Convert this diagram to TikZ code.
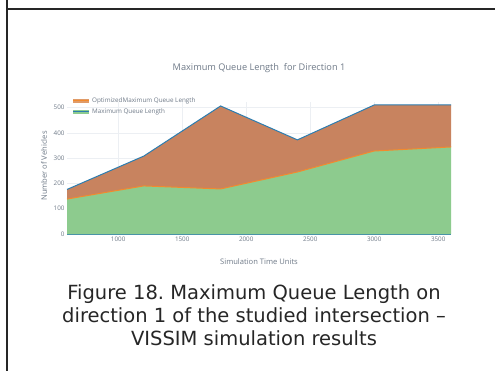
\documentclass[tikz,border=0pt]{standalone}
\usepackage{fontspec}
\setmainfont{DejaVu Sans}
\newfontfamily\plotfont{Open Sans}
\frenchspacing
\definecolor{optfill}{HTML}{C8835F}
\definecolor{maxfill}{HTML}{8DCB8E}
\definecolor{topline}{HTML}{2C7DB0}
\definecolor{midline}{HTML}{F28A2E}
\definecolor{plottext}{HTML}{6F7A88}
\definecolor{gridcol}{HTML}{ECEFF3}
\tikzset{
    ticklabel/.style={font=\plotfont\fontsize{6.3}{7}\selectfont, text=plottext, inner sep=1pt}
}
\tikzset{
    axistitle/.style={font=\plotfont\fontsize{7.6}{9}\selectfont, text=plottext, inner sep=0pt}
}

\begin{document}
\begin{tikzpicture}[x=1pt, y=1pt]
	\useasboundingbox (0,0) rectangle (495,371);
	\fill[white] (0,0) rectangle (495,371);
	\draw[line width=2pt, black!85] (7,372) -- (7,362) -- (496,362);
	\draw[line width=2pt, black!85] (7,362) -- (7,-1);

	% plot area
	\begin{scope}[shift={(67,137)}, x=0.128pt, y=0.253pt]
		\foreach \gx in {1000,1500,...,3500}
			\draw[gridcol, line width=0.5pt] (\gx-600,0) -- (\gx-600,520);
		\foreach \gy in {100,200,...,500}
			\draw[gridcol, line width=0.5pt] (0,\gy) -- (3000,\gy);
		\fill[optfill] (0,176) -- (600,308) -- (1200,506) -- (1800,372)
			-- (2400,510) -- (3000,510) -- (3000,344) -- (2400,328)
			-- (1800,245) -- (1200,178) -- (600,190) -- (0,138) -- cycle;
		\fill[maxfill] (0,0) -- (0,138) -- (600,190) -- (1200,178)
			-- (1800,245) -- (2400,328) -- (3000,344) -- (3000,0) -- cycle;
		\draw[midline, line width=1pt] (0,138) -- (600,190) -- (1200,178)
			-- (1800,245) -- (2400,328) -- (3000,344);
		\draw[topline, line width=1pt] (0,176) -- (600,308) -- (1200,506)
			-- (1800,372) -- (2400,510) -- (3000,510);
		\draw[topline!70!maxfill, line width=0.8pt] (0,0) -- (3000,0);
		\foreach \gx in {1000,1500,...,3500}
			\node[ticklabel, anchor=north] (xt\gx) at (\gx-600,-8) {\gx};
		\foreach \gy in {0,100,...,500}
			\node[ticklabel, anchor=east] (yt\gy) at (-10,\gy) {\gy};
	\end{scope}

	% legend
	\fill[optfill!70!orange!80!white] (73,268) rectangle (89,271.5);
	\draw[midline, line width=0.8pt] (73,271) -- (89,271);
	\fill[maxfill] (73,257) rectangle (89,260.5);
	\draw[topline, line width=0.8pt] (73,260) -- (89,260);
	\node[ticklabel, anchor=west] (leg1) at (91,270) {OptimizedMaximum Queue Length};
	\node[ticklabel, anchor=west] (leg2) at (91,259) {Maximum Queue Length};

	% titles
	\node[axistitle, font=\plotfont\fontsize{9.2}{11}\selectfont] (title) at (259,303) {Maximum Queue Length\ \ for Direction 1};
	\node[axistitle] (xtitle) at (259,109) {Simulation Time Units};
	\node[axistitle, rotate=90] (ytitle) at (44,205) {Number of Vehicles};

	% caption
	\node[align=center, font=\fontsize{19.5}{23}\selectfont, text=black!85] (caption) at (254,56)
		{Figure 18. Maximum Queue Length on\\direction 1 of the studied intersection --\\VISSIM simulation results};
\end{tikzpicture}
\end{document}
